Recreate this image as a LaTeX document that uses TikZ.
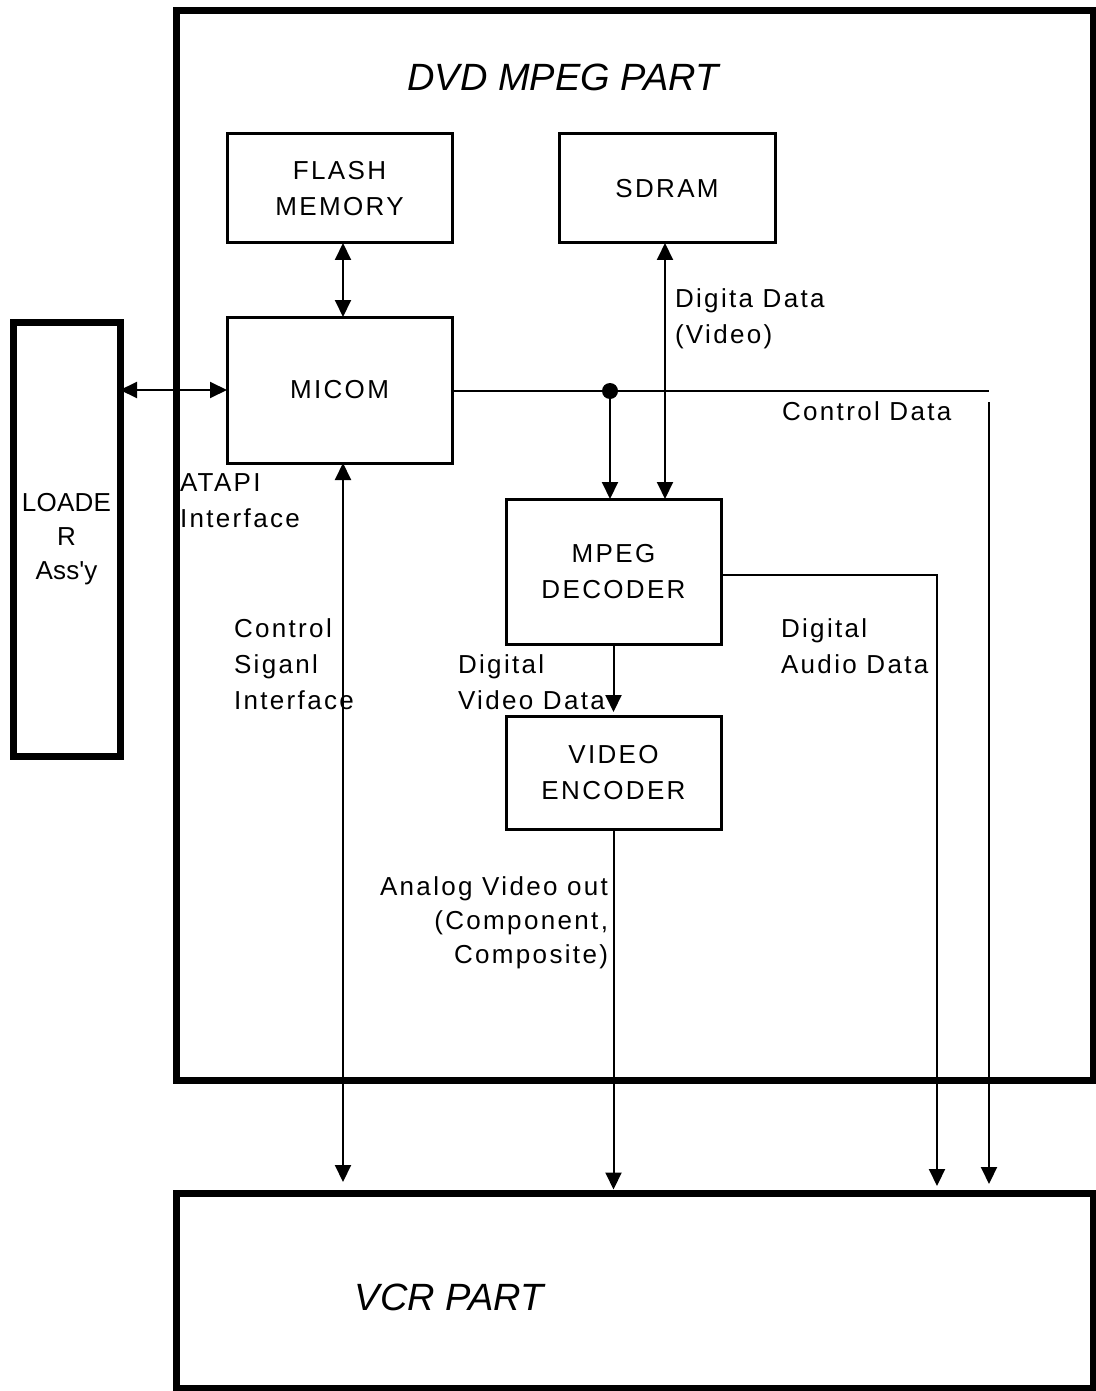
\documentclass[tikz,border=0pt]{standalone}
\usepackage{fontspec}
\setmainfont{Liberation Sans}[LetterSpace=9]
\newfontfamily\titlefont{Liberation Sans}
\newfontfamily\loaderfont{Liberation Sans}[LetterSpace=1]
\usetikzlibrary{arrows.meta}
\begin{document}
\begin{tikzpicture}[x=0.5pt,y=-0.5pt,
  frame/.style={draw, line width=3.5pt, inner sep=0pt, outer sep=0pt},
  blk/.style={draw, line width=1.5pt, inner sep=0pt, outer sep=0pt, align=center,
     font=\fontsize{13}{18}\selectfont},
  lbl/.style={inner sep=0pt, outer sep=0pt, font=\fontsize{13}{18}\selectfont},
  ttl/.style={inner sep=0pt, font=\titlefont\itshape\fontsize{19}{22}\selectfont},
  conn/.style={line width=1pt},
  arr/.style={conn, -{Triangle[length=8.5pt,width=8pt]}},
  biarr/.style={conn, {Triangle[length=8.5pt,width=8pt]}-{Triangle[length=8.5pt,width=8pt]}}
]
\useasboundingbox (0,0) rectangle (1096,1391);
% frames
\node[frame, minimum width=458.5pt, minimum height=534.5pt] (dvd) at (634.5,545.5) {};
\node[frame, minimum width=458.5pt, minimum height=97.5pt] (vcr) at (634.5,1290.5) {};
\node[frame, minimum width=53.5pt, minimum height=217pt, align=center,
      font=\loaderfont\fontsize{13}{17}\selectfont] (loader) at (66.5,539) {LOADE\\R\\Ass\textquotesingle y};
% titles
\node[ttl] (dvdtitle) at (563,77) {DVD MPEG PART};
\node[ttl] (vcrtitle) at (449,1297) {VCR PART};
% blocks
\node[blk, minimum width=112.5pt, minimum height=54.5pt] (flash) at (339.5,188.5) {FLASH\\MEMORY};
\node[blk, minimum width=108pt, minimum height=54.5pt] (sdram) at (667,188.5) {SDRAM};
\node[blk, minimum width=112.5pt, minimum height=73pt] (micom) at (339.5,390) {MICOM};
\node[blk, minimum width=107.5pt, minimum height=72.5pt] (mpeg) at (613.5,571.5) {MPEG\\DECODER};
\node[blk, minimum width=107.5pt, minimum height=56.5pt] (venc) at (613.5,772.5) {VIDEO\\ENCODER};
% labels
\node[lbl, anchor=north west, align=left] (l1) at (675,289) {Digita Data\\(Video)};
\node[lbl, anchor=north west] (l2) at (782,402) {Control Data};
\node[lbl, anchor=north west, align=left] (l3) at (180,474) {ATAPI\\Interface};
\node[lbl, anchor=north west, align=left] (l4) at (234,619) {Control\\Siganl\\Interface};
\node[lbl, anchor=north west, align=left] (l5) at (458,655) {Digital\\Video Data};
\node[lbl, anchor=north west, align=left] (l6) at (781,619) {Digital\\Audio Data};
\node[lbl, anchor=north east, align=right, font=\fontsize{13}{17}\selectfont] (l7) at (608,877) {Analog Video out\\(Component,\\Composite)};
% connectors
\draw[biarr] (loader.east |- micom.west) -- (micom.west);
\coordinate (fmx) at ([xshift=1.75pt]flash.south);
\draw[biarr] (fmx) -- (fmx |- micom.north);
\coordinate (sdx) at ([xshift=-1pt]sdram.south);
\draw[biarr] (sdx) -- (sdx |- mpeg.north);
\coordinate (cdot) at (610,391);
\coordinate (cend) at (989,391);
\draw[conn] ([yshift=-0.5pt]micom.east) -- (cend);
\fill (cdot) circle (4pt);
\draw[arr] (cdot) -- (cdot |- mpeg.north);
\coordinate (ctop) at (989,402);
\draw[arr, shorten >=4.5pt] (ctop) -- (ctop |- vcr.north);
\coordinate (mcx) at ([xshift=1.75pt]micom.south);
\draw[biarr, shorten >=5.5pt] (mcx) -- (mcx |- vcr.north);
\draw[arr, shorten >=2pt] (mpeg.south) -- (venc.north);
\draw[arr, shorten >=1.75pt] (venc.south) -- (venc.south |- vcr.north);
\coordinate (aud) at (937,1193);
\draw[arr, shorten >=3.5pt] ([yshift=-1.75pt]mpeg.east) -| (aud);
\end{tikzpicture}
\end{document}
